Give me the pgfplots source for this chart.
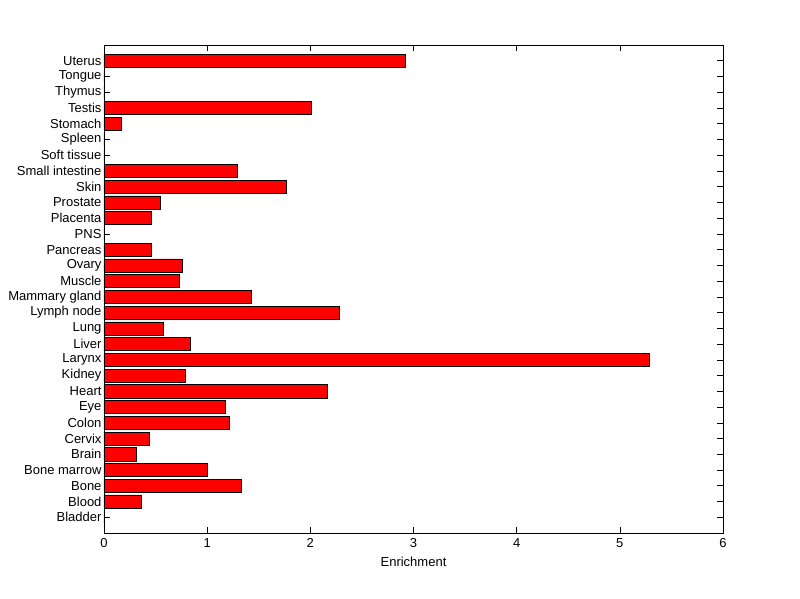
\documentclass[border=0pt]{standalone}
\usepackage{fontspec}
\setmainfont{Liberation Sans}
\usepackage{pgfplots}
\pgfplotsset{compat=1.18}
\begin{document}
\begin{tikzpicture}[x=1pt,y=1pt]
\useasboundingbox (0,0) rectangle (800,599);
\fill[white] (0,0) rectangle (800,599);
\begin{axis}[
  at={(104pt,66pt)}, anchor=south west,
  width=619pt, height=488pt, scale only axis,
  xmin=0, xmax=6, ymin=0, ymax=31,
  xbar, bar width=0.83,
  xtick={0,1,2,3,4,5,6},
  ytick={1,...,30},
  yticklabels={Bladder,Blood,Bone,Bone marrow,Brain,Cervix,Colon,Eye,Heart,Kidney,Larynx,Liver,Lung,Lymph node,Mammary gland,Muscle,Ovary,Pancreas,PNS,Placenta,Prostate,Skin,Small intestine,Soft tissue,Spleen,Stomach,Testis,Thymus,Tongue,Uterus},
  tick align=inside,
  major tick length=6pt,
  tick style={black, line width=0.6pt},
  axis line style={line width=0.6pt},
  ticklabel style={font=\fontsize{13}{15}\selectfont},
  xticklabel style={yshift=-2pt},
  /pgf/number format/assume math mode=true,
  xlabel={Enrichment},
  xlabel style={font=\fontsize{13}{15}\selectfont, yshift=-2pt},
  yticklabel style={xshift=1pt},
]
\addplot[fill=red, draw=black, line width=0.6pt] coordinates {
(0,1) (0.36,2) (1.33,3) (1.00,4) (0.31,5) (0.44,6) (1.21,7) (1.18,8) (2.16,9) (0.79,10)
(5.29,11) (0.84,12) (0.57,13) (2.28,14) (1.43,15) (0.73,16) (0.76,17) (0.46,18) (0,19) (0.46,20)
(0.55,21) (1.77,22) (1.29,23) (0,24) (0,25) (0.17,26) (2.01,27) (0,28) (0,29) (2.92,30)
};
\end{axis}
\end{tikzpicture}
\end{document}
